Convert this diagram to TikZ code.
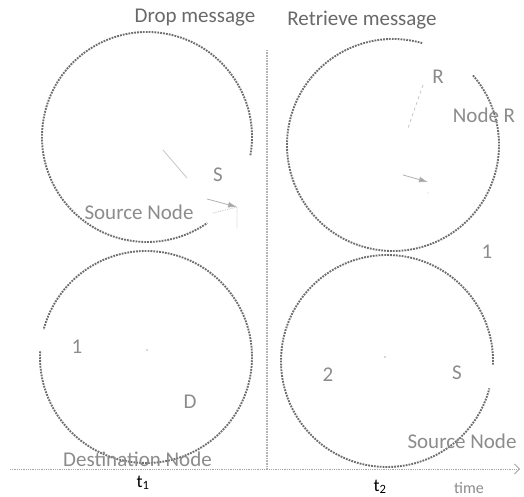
\documentclass[tikz,border=0pt]{standalone}
\usepackage{fontspec}
\setmainfont{Carlito}
\usetikzlibrary{arrows.meta}
\definecolor{ttl}{RGB}{105,105,105}
\definecolor{lbl}{RGB}{140,140,140}
\definecolor{dotc}{RGB}{110,110,110}
\tikzset{
  ring/.style={draw=dotc, line width=1.9pt, dash pattern=on 1.8pt off 1.1pt},
  title/.style={text=ttl, font=\fontsize{21}{24}\selectfont, inner sep=0pt},
  lab/.style={text=lbl, font=\fontsize{21}{24}\selectfont, inner sep=0pt},
  tlab/.style={text=black, font=\fontsize{18}{20}\selectfont, inner sep=0pt},
  faint/.style={draw=gray!45, line width=0.8pt},
  axis/.style={draw=gray!70, line width=0.8pt, densely dotted},
}
\begin{document}
\begin{tikzpicture}[x=1pt,y=1pt]
\useasboundingbox (0,0) rectangle (524,497);
\fill[white] (0,0) rectangle (524,497);
% centres
\coordinate (cTL) at (147,360);
\coordinate (cTR) at (393,352);
\coordinate (cBL) at (146,140);
\coordinate (cBR) at (387,136);
% rings
\draw[ring] (cTL) ++(-10:105) arc[start angle=-10, end angle=305, radius=105];
\draw[ring] (cTR) ++(74:106) arc[start angle=74, end angle=401, radius=106];
\draw[ring] (cBL) ++(177:106) arc[start angle=177, end angle=525, radius=106];
\draw[ring] (cBR) ++(-2:106) arc[start angle=-2, end angle=345, radius=106];
% centre dots
\fill[gray!60] (147,147) circle (0.8);
\fill[gray!60] (385,140) circle (0.8);
% axes
\coordinate (ax0) at (10,28);
\coordinate (ax1) at (520,28);
\coordinate (vx0) at (267,447);
\coordinate (vx1) at (267,28);
\draw[draw=gray!60, line width=2pt, dash pattern=on 1pt off 0.6pt] (vx0) -- (vx1);
\draw[axis, -{Straight Barb[length=5pt,width=10pt,line width=0.8pt]}] (ax0) -- (ax1);
% faint arrows top-left
\coordinate (fa1) at (163,347);
\coordinate (fa2) at (187,319);
\coordinate (fa3) at (207,298);
\coordinate (fa4) at (237,290);
\coordinate (fa5) at (213,284);
\coordinate (fa6) at (237,268);
\draw[faint] (fa1) -- (fa2);
\draw[draw=gray!60, line width=0.8pt, -{Latex[length=9pt,width=6pt,fill=gray!70]}] (fa3) -- (fa4);
\draw[faint, densely dotted] (fa5) -- (fa4) -- (fa6);
% faint arrows top-right
\coordinate (fb1) at (423,412);
\coordinate (fb2) at (408,369);
\coordinate (fb3) at (403,322);
\coordinate (fb4) at (428,315);
\draw[faint, dashed] (fb1) -- (fb2);
\draw[draw=gray!60, line width=0.8pt, -{Latex[length=9pt,width=6pt,fill=gray!70]}] (fb3) -- (fb4);
\fill[gray!40] (428,304) circle (0.6);
% texts
\node[title] (drop) at (195,479) {Drop message};
\node[title] (retr) at (362,477) {Retrieve message};
\node[lab] (s1) at (218,322) {S};
\node[lab] (src1) at (139,285) {Source Node};
\node[lab] (r) at (438,420) {R};
\node[lab] (noder) at (484,382) {Node R};
\node[lab] (one1) at (487,245) {1};
\node[lab] (one2) at (77,150) {1};
\node[lab] (d) at (190,95) {D};
\node[lab] (dest) at (137.5,38) {Destination Node};
\node[lab] (two) at (328,122) {2};
\node[lab] (s2) at (457,124) {S};
\node[lab] (src2) at (462,56) {Source Node};
\node[lab, font=\fontsize{16}{18}\selectfont] (time) at (469,9) {time};
\node[tlab] (t1) at (143,14) {t\textsubscript{1}};
\node[tlab, anchor=south] (t2) at (380,3) {t\textsubscript{2}};
\end{tikzpicture}
\end{document}
